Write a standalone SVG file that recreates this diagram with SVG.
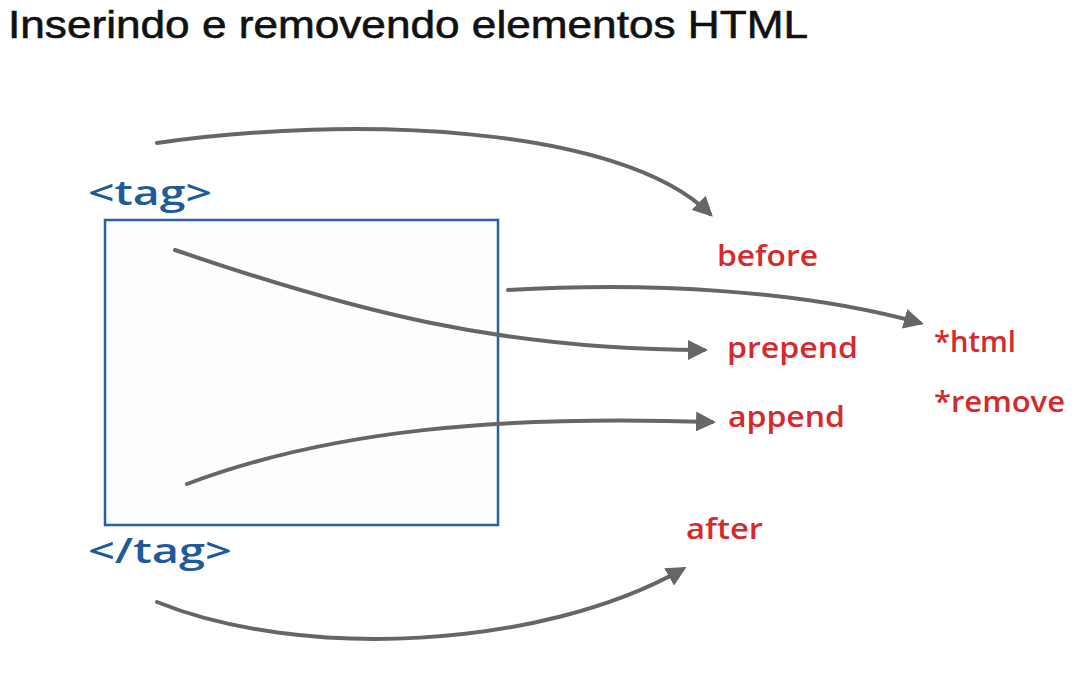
<svg xmlns="http://www.w3.org/2000/svg" width="1077" height="673" viewBox="0 0 1077 673">
<style>
.title{font-family:"Liberation Sans",Arial,sans-serif;font-size:38px;fill:#111;stroke:#111;stroke-width:0.6}
.tag{font-family:"Open Sans","DejaVu Sans",sans-serif;font-size:34px;font-weight:600;fill:#1f5a9a}
.lbl{font-family:"Open Sans","DejaVu Sans",sans-serif;font-size:29px;font-weight:600;fill:#d42a2e}
.conn{fill:none;stroke:#666;stroke-width:4;stroke-linecap:round}
</style>
<defs>
<marker id="ah" viewBox="0 0 10 10" refX="8" refY="5" markerWidth="5" markerHeight="5" orient="auto" markerUnits="strokeWidth">
<path d="M0,0 L10,5 L0,10 Z" fill="#666"/>
</marker>
</defs>
<rect width="1077" height="673" fill="#fff"/>
<text class="title" x="8" y="38" textLength="800" lengthAdjust="spacingAndGlyphs">Inserindo e removendo elementos HTML</text>
<g id="element">
<rect x="105" y="220" width="393" height="305" fill="#fdfefe" stroke="#2a5fa0" stroke-width="2.5"/>
<text class="tag" x="88" y="205" textLength="124" lengthAdjust="spacingAndGlyphs">&lt;tag&gt;</text>
<text class="tag" x="88" y="563" textLength="144" lengthAdjust="spacingAndGlyphs">&lt;/tag&gt;</text>
</g>
<g id="before"><text class="lbl" x="717" y="266" textLength="101" lengthAdjust="spacingAndGlyphs">before</text></g>
<g id="prepend"><text class="lbl" x="727" y="358" textLength="131" lengthAdjust="spacingAndGlyphs">prepend</text></g>
<g id="append"><text class="lbl" x="728" y="427" textLength="117" lengthAdjust="spacingAndGlyphs">append</text></g>
<g id="after"><text class="lbl" x="686" y="539" textLength="77" lengthAdjust="spacingAndGlyphs">after</text></g>
<g id="html"><text class="lbl" x="934" y="352" textLength="82" lengthAdjust="spacingAndGlyphs">*html</text></g>
<g id="remove"><text class="lbl" x="934" y="412" textLength="131" lengthAdjust="spacingAndGlyphs">*remove</text></g>
<g id="connectors">
<path class="conn" marker-end="url(#ah)" d="M157,143 C350,115 620,125 710,214"/>
<path class="conn" marker-end="url(#ah)" d="M175,250 C350,310 500,350 704,350"/>
<path class="conn" marker-end="url(#ah)" d="M508,290 C650,282 800,290 920,323"/>
<path class="conn" marker-end="url(#ah)" d="M187,484 C330,430 500,415 712,422"/>
<path class="conn" marker-end="url(#ah)" d="M157,602 C300,660 540,650 683,569"/>
</g>
</svg>
